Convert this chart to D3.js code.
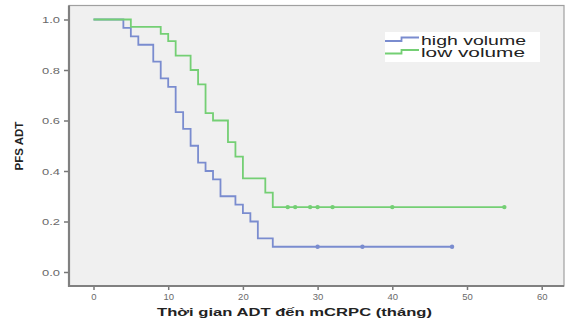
<!DOCTYPE html>
<html>
<head>
<meta charset="utf-8">
<script src="https://cdn.jsdelivr.net/npm/d3@7"></script>
<style>
  body { margin: 0; background: #fff; }
  svg { display: block; font-family: "Liberation Sans", Arial, sans-serif; }
  .tick-label { font-size: 9.5px; fill: #6a6a6a; }
  .axis-title { font-size: 11.5px; font-weight: bold; fill: #222; }
  .legend-text { font-size: 12px; fill: #222; }
</style>
</head>
<body>
<script>
// Kaplan-Meier steps
const highTimes = [0, 4, 5, 6, 8, 9, 10, 11, 12, 13, 14, 15, 16, 17, 19, 20, 21, 22, 24];
const highSurv = [1.0, 0.967, 0.933, 0.9, 0.833, 0.767, 0.733, 0.633, 0.567, 0.5, 0.433, 0.4, 0.367, 0.3, 0.267, 0.233, 0.2, 0.133, 0.1];
const highEnd = 48;
const highCensor = [30, 36, 48];

const lowTimes = [0, 5, 9, 10, 11, 13, 14, 15, 16, 18, 19, 20, 23, 24];
const lowSurv = [1.0, 0.971, 0.943, 0.914, 0.857, 0.8, 0.743, 0.629, 0.6, 0.514, 0.457, 0.371, 0.314, 0.257];
const lowEnd = 55;
const lowCensor = [26, 27, 29, 30, 32, 40, 55];

const xTicks = [0, 10, 20, 30, 40, 50, 60];
const yTicks = [0.0, 0.2, 0.4, 0.6, 0.8, 1.0];
const seriesNames = ["high volume", "low volume"];

const width = 566, height = 322;
const frame = { left: 69, top: 5.5, right: 564, bottom: 286 };

const x = d3.scaleLinear().domain([0, 60]).range([93.5, 541.7]);
const y = d3.scaleLinear().domain([0, 1]).range([272, 19.5]);

const svg = d3.select("body").append("svg")
  .attr("width", width)
  .attr("height", height);

// plot area
svg.append("rect")
  .attr("x", frame.left).attr("y", frame.top)
  .attr("width", frame.right - frame.left)
  .attr("height", frame.bottom - frame.top)
  .attr("fill", "#f0f0f0")
  .attr("stroke", "#a0a0a0")
  .attr("stroke-width", 1.2);

// axes
const yAxis = d3.axisLeft(y).tickValues(yTicks).tickFormat(d3.format(".1f")).tickSize(5).tickPadding(4);
const xAxis = d3.axisBottom(x).tickValues(xTicks).tickFormat(d3.format("d")).tickSize(4).tickPadding(3);

const gy = svg.append("g").attr("transform", `translate(${frame.left},0)`).call(yAxis);
const gx = svg.append("g").attr("transform", `translate(0,${frame.bottom})`).call(xAxis);

[gy, gx].forEach(g => {
  g.select(".domain").remove();
  g.selectAll(".tick line").attr("stroke", "#777").attr("stroke-width", 1.5);
  g.selectAll(".tick text").attr("class", "tick-label").attr("font-family", null).attr("font-size", null);
});
gy.selectAll(".tick text").attr("textLength", 18).attr("lengthAdjust", "spacingAndGlyphs");

// axis lines drawn heavier on left and bottom
svg.append("line")
  .attr("x1", frame.left).attr("x2", frame.left)
  .attr("y1", frame.top).attr("y2", frame.bottom + 1)
  .attr("stroke", "#808080").attr("stroke-width", 2.2);
svg.append("line")
  .attr("x1", frame.left).attr("x2", frame.right)
  .attr("y1", frame.bottom).attr("y2", frame.bottom)
  .attr("stroke", "#808080").attr("stroke-width", 2.2);

// axis titles
svg.append("text")
  .attr("class", "axis-title")
  .attr("x", 157).attr("y", 316)
  .attr("textLength", 275).attr("lengthAdjust", "spacingAndGlyphs")
  .text("Thời gian ADT đến mCRPC (tháng)");

svg.append("text")
  .attr("class", "axis-title")
  .attr("transform", "translate(23,146) rotate(-90)")
  .attr("text-anchor", "middle")
  .attr("font-size", "10px")
  .text("PFS ADT");

// curves
const line = d3.line()
  .x(d => x(d[0]))
  .y(d => y(d[1]))
  .curve(d3.curveStepAfter);

function stepAt(times, surv, t) {
  let s = surv[0];
  times.forEach((tt, i) => { if (tt <= t) s = surv[i]; });
  return s;
}

const series = [
  { times: highTimes, surv: highSurv, end: highEnd, censor: highCensor, color: "#7a8ccf" },
  { times: lowTimes, surv: lowSurv, end: lowEnd, censor: lowCensor, color: "#74cf74" }
];

series.forEach(s => {
  const pts = s.times.map((t, i) => [t, s.surv[i]]);
  pts.push([s.end, s.surv[s.surv.length - 1]]);
  svg.append("path")
    .datum(pts)
    .attr("fill", "none")
    .attr("stroke", s.color)
    .attr("stroke-width", 1.8)
    .attr("d", line);

  svg.selectAll(null)
    .data(s.censor)
    .join("circle")
    .attr("cx", d => x(d))
    .attr("cy", d => y(stepAt(s.times, s.surv, d)))
    .attr("r", 2.2)
    .attr("fill", s.color);
});

// legend
const legend = svg.append("g");
legend.append("rect")
  .attr("x", 385).attr("y", 32)
  .attr("width", 155).attr("height", 30)
  .attr("fill", "#fff");

seriesNames.forEach((name, i) => {
  const yy = 41 + i * 12.5;
  legend.append("path")
    .attr("d", `M385,${yy} H401.5 V${yy - 3.5} H419`)
    .attr("fill", "none")
    .attr("stroke", series[i].color)
    .attr("stroke-width", 1.8);
  legend.append("text")
    .attr("class", "legend-text")
    .attr("x", 421).attr("y", yy + 3.8)
    .attr("textLength", i === 0 ? 105 : 104)
    .attr("lengthAdjust", "spacingAndGlyphs")
    .text(name);
});
</script>
</body>
</html>
